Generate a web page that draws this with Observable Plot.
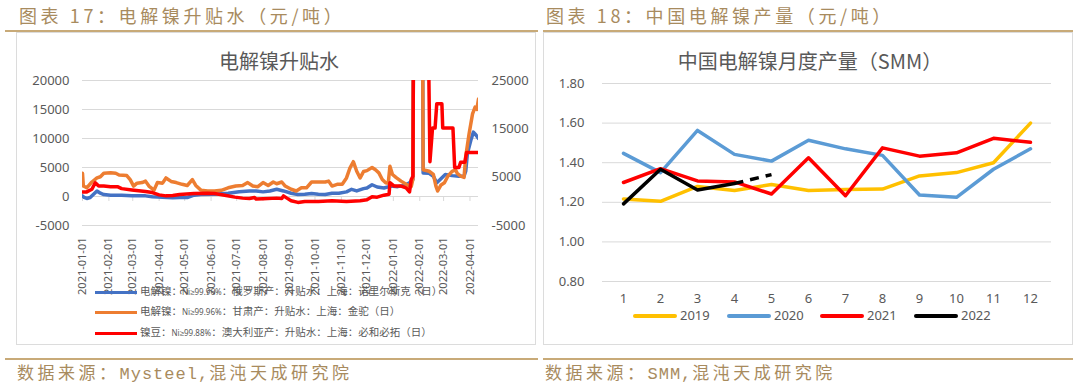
<!DOCTYPE html>
<html><head><meta charset="utf-8">
<script src="https://cdn.jsdelivr.net/npm/d3@7"></script>
<script src="https://cdn.jsdelivr.net/npm/@observablehq/plot@0.6"></script>
<style>
body{margin:0;background:#fff;width:1080px;height:392px;position:relative;overflow:hidden;font-family:"Noto Sans","Noto Sans CJK SC",sans-serif;}
.abs{position:absolute;line-height:1;white-space:nowrap;}
.hdr{color:#a88b5e;font-size:18px;letter-spacing:3.6px;font-family:"Noto Sans CJK SC",sans-serif;}
.ftr{color:#a88b5e;font-size:17px;letter-spacing:3.5px;font-family:"Liberation Mono","Noto Sans CJK SC",monospace;}
.ftr .m{letter-spacing:1px;}
.gline{position:absolute;background:#c8aa78;height:2px;}
.box{position:absolute;border:1px solid #dcdcdc;box-sizing:border-box;}
.ctitle{color:#595959;font-size:20px;transform:translateX(-50%);font-family:"Noto Sans CJK SC",sans-serif;}
.leg{color:#595959;font-size:10.5px;font-family:"Noto Sans CJK SC",sans-serif;}
.leg small{font-size:8px;font-family:"Noto Sans",sans-serif;}
.sw{position:absolute;}
.chart{position:absolute;}
</style></head>
<body>
<div id="root"></div>
<script>
// ---------- Chart 17 data ----------
const header17 = "图表 17：电解镍升贴水（元/吨）";
const title17 = "电解镍升贴水";
const source17 = "数据来源：Mysteel,混沌天成研究院";
const leftNames = ["电解镍：Ni≥99.96%：俄罗斯产：升贴水：上海：诺里尔斯克（日）","电解镍：Ni≥99.96%：甘肃产：升贴水：上海：金驼（日）","镍豆：Ni≥99.88%：澳大利亚产：升贴水：上海：必和必拓（日）"];
const leftColors = ["#4472C4","#ED7D31","#FF0000"];
const leftTicks = [-5000,0,5000,10000,15000,20000];
const rightAxisTicks = [-5000,5000,15000,25000];
const monthTicks = ["2021-01-01","2021-02-01","2021-03-01","2021-04-01","2021-05-01","2021-06-01","2021-07-01","2021-08-01","2021-09-01","2021-10-01","2021-11-01","2021-12-01","2022-01-01","2022-02-01","2022-03-01","2022-04-01"];
const xStart = "2021-01-01", xEnd = "2022-04-11";

const blueSeries = [["2021-01-01",100],["2021-01-03",-170],["2021-01-06",-340],["2021-01-10",-170],["2021-01-14",400],["2021-01-18",960],["2021-01-22",565],["2021-01-26",340],["2021-02-03",230],["2021-02-16",230],["2021-02-28",110],["2021-03-16",110],["2021-03-24",-60],["2021-04-05",-110],["2021-04-17",-230],["2021-04-25",-170],["2021-05-04",-170],["2021-05-12",230],["2021-05-20",340],["2021-06-05",400],["2021-06-21",560],["2021-07-04",800],["2021-07-16",960],["2021-07-24",960],["2021-08-01",800],["2021-08-09",960],["2021-08-17",1240],["2021-08-25",960],["2021-09-03",565],["2021-09-11",340],["2021-09-19",400],["2021-09-27",500],["2021-10-05",400],["2021-10-13",340],["2021-10-21",565],["2021-10-29",560],["2021-11-07",800],["2021-11-13",1240],["2021-11-19",960],["2021-11-27",1360],["2021-12-01",1470],["2021-12-07",2030],["2021-12-13",1640],["2021-12-21",1470],["2021-12-29",1800],["2022-01-06",1700],["2022-01-14",1900],["2022-01-20",2370],["2022-01-24",2940],["2022-01-25",40000],["2022-02-04",40000],["2022-02-05",4070],["2022-02-12",4000],["2022-02-17",3500],["2022-02-21",2370],["2022-02-25",2940],["2022-03-03",3800],["2022-03-11",3600],["2022-03-19",3500],["2022-03-25",3500],["2022-03-27",4350],["2022-03-29",7460],["2022-04-02",9700],["2022-04-05",11100],["2022-04-08",10600],["2022-04-11",10000]];

const orangeSeries = [["2021-01-01",4000],["2021-01-02",1800],["2021-01-06",1500],["2021-01-12",2500],["2021-01-18",3200],["2021-01-22",3400],["2021-01-26",4000],["2021-02-03",4100],["2021-02-09",4000],["2021-02-13",3700],["2021-02-22",3600],["2021-02-26",2900],["2021-03-02",1800],["2021-03-06",2300],["2021-03-12",2400],["2021-03-16",2650],["2021-03-20",1800],["2021-03-26",1100],["2021-03-30",2400],["2021-04-05",2300],["2021-04-09",3200],["2021-04-15",2600],["2021-04-21",2400],["2021-04-28",2100],["2021-05-04",1900],["2021-05-10",2900],["2021-05-14",1900],["2021-05-20",1100],["2021-05-28",950],["2021-06-05",950],["2021-06-13",1070],["2021-06-21",1500],["2021-06-30",1800],["2021-07-08",1900],["2021-07-14",2400],["2021-07-20",1800],["2021-07-26",1700],["2021-08-01",2400],["2021-08-07",1900],["2021-08-13",2500],["2021-08-17",2200],["2021-08-23",2500],["2021-08-27",1800],["2021-09-03",1250],["2021-09-09",950],["2021-09-15",1500],["2021-09-21",1500],["2021-09-27",2500],["2021-10-05",2500],["2021-10-13",2500],["2021-10-17",2650],["2021-10-21",1800],["2021-10-27",2100],["2021-11-02",2100],["2021-11-07",3200],["2021-11-11",4900],["2021-11-15",6000],["2021-11-19",4350],["2021-11-23",3200],["2021-11-27",4300],["2021-12-01",4460],["2021-12-07",5000],["2021-12-11",4600],["2021-12-15",4070],["2021-12-19",2940],["2021-12-23",2370],["2021-12-26",2300],["2021-12-28",5200],["2021-12-31",3800],["2022-01-04",3300],["2022-01-10",2650],["2022-01-16",2100],["2022-01-22",1700],["2022-01-24",3000],["2022-01-25",40000],["2022-02-04",40000],["2022-02-05",4600],["2022-02-12",4350],["2022-02-17",3800],["2022-02-20",1800],["2022-02-22",950],["2022-02-26",2000],["2022-03-02",2370],["2022-03-06",3500],["2022-03-11",4350],["2022-03-15",4600],["2022-03-17",4000],["2022-03-21",3500],["2022-03-25",3300],["2022-03-27",6900],["2022-03-31",10850],["2022-04-04",14240],["2022-04-07",15400],["2022-04-09",15000],["2022-04-11",16800]];

const redSeries = [["2021-01-01",790],["2021-01-06",790],["2021-01-12",1240],["2021-01-16",2370],["2021-01-20",1800],["2021-01-26",1800],["2021-02-03",1700],["2021-02-11",1700],["2021-02-16",1360],["2021-02-28",1130],["2021-03-16",850],["2021-03-24",680],["2021-04-01",280],["2021-04-09",110],["2021-04-17",170],["2021-04-25",340],["2021-05-12",500],["2021-05-28",565],["2021-06-05",500],["2021-06-17",230],["2021-06-29",-110],["2021-07-08",-280],["2021-07-16",-340],["2021-07-22",-170],["2021-07-24",-450],["2021-08-01",-400],["2021-08-17",-280],["2021-08-23",-340],["2021-08-25",110],["2021-08-29",-280],["2021-09-03",-730],["2021-09-11",-1020],["2021-09-19",-850],["2021-10-05",-850],["2021-10-21",-730],["2021-11-07",-850],["2021-11-23",-730],["2021-12-01",-565],["2021-12-07",-60],["2021-12-13",-110],["2021-12-21",230],["2021-12-27",400],["2021-12-28",2370],["2022-01-02",1800],["2022-01-10",1800],["2022-01-16",1500],["2022-01-20",790],["2022-01-22",2940],["2022-01-24",3500],["2022-01-25",40000],["2022-02-10",40000],["2022-02-13",6000],["2022-02-16",11800],["2022-02-19",11800],["2022-02-21",16000],["2022-02-27",16000],["2022-02-28",11800],["2022-03-12",11800],["2022-03-14",5000],["2022-03-19",5000],["2022-03-21",5900],["2022-03-26",5900],["2022-03-28",7600],["2022-04-11",7600]];

// ---------- Chart 18 data ----------
const header18 = "图表 18：中国电解镍产量（元/吨）";
const title18 = "中国电解镍月度产量（SMM）";
const source18 = "数据来源：SMM,混沌天成研究院";
const months = [1,2,3,4,5,6,7,8,9,10,11,12];
const years = ["2019","2020","2021","2022"];
const yearColors = ["#FFC000","#5B9BD5","#FF0000","#000000"];
const prod2019 = [1.217,1.205,1.28,1.26,1.29,1.26,1.265,1.267,1.333,1.35,1.40,1.60];
const prod2020 = [1.447,1.35,1.563,1.442,1.408,1.513,1.47,1.437,1.237,1.225,1.367,1.47];
const prod2021 = [1.30,1.37,1.308,1.303,1.242,1.425,1.233,1.475,1.433,1.45,1.523,1.503];
const prod2022 = [1.192,1.367,1.262,1.295];
const prod2022May = 1.34;
const rightYTicks = [0.8,1.0,1.2,1.4,1.6,1.8];

// ---------- layout ----------
const root = document.getElementById("root");
function el(cls, css, html){const d=document.createElement("div");d.className=cls;Object.assign(d.style,css);if(html!==undefined)d.innerHTML=html;root.appendChild(d);return d;}
const monoWrap = s => s.replace(/([A-Za-z]+,)/, '<span class="m">$1</span>');

el("abs hdr",{left:"19px",top:"6px"},header17);
el("abs hdr",{left:"546px",top:"6px"},header18);
el("gline",{left:"5px",top:"30px",width:"533px"});
el("gline",{left:"543px",top:"30px",width:"530px"});
el("box",{left:"16px",top:"32px",width:"520px",height:"313px"});
el("box",{left:"543px",top:"32px",width:"530px",height:"313px"});
el("gline",{left:"5px",top:"358px",width:"533px"});
el("gline",{left:"543px",top:"358px",width:"530px"});
el("abs ftr",{left:"17px",top:"366px"},monoWrap(source17));
el("abs ftr",{left:"545px",top:"366px"},monoWrap(source18));

const parse = d3.utcParse("%Y-%m-%d");
const baseStyle = {fontFamily:"'Noto Sans','Noto Sans CJK SC',sans-serif",fontSize:"13px",color:"#595959",background:"transparent",overflow:"visible"};

// Left chart
const leftRows = [];
[blueSeries, orangeSeries, redSeries].forEach((arr,i)=>arr.forEach(([d,v])=>leftRows.push({date:parse(d),value:v,series:leftNames[i]})));
const rLo = -5000, rHi = 25000, lLo = -5000, lHi = 20000;
const toLeft = v => lLo + (v - rLo) * (lHi - lLo) / (rHi - rLo);
const fromLeft = v => rLo + (v - lLo) * (rHi - rLo) / (lHi - lLo);

const leftPlot = Plot.plot({
  width: 519, height: 310,
  marginLeft: 66, marginRight: 57, marginTop: 48, marginBottom: 117,
  style: baseStyle,
  x: {type: "utc", domain: [parse(xStart), parse(xEnd)], label: null},
  y: {domain: [lLo, lHi], label: null},
  color: {domain: leftNames, range: leftColors},
  marks: [
    Plot.gridY(leftTicks, {stroke: "#d9d9d9", strokeOpacity: 1}),
    Plot.ruleX(monthTicks.map(parse), {y1: 0, y2: 0, insetBottom: -5, stroke: "#d9d9d9"}),
    Plot.axisX(monthTicks.map(parse), {tickRotate: -90, tickFormat: d3.utcFormat("%Y-%m-%d"), tickSize: 0, tickPadding: 12, fontSize: 11}),
    Plot.axisY(leftTicks, {tickSize: 0, tickPadding: 13, tickFormat: d => String(d)}),
    Plot.axisY(rightAxisTicks.map(toLeft), {anchor: "right", tickSize: 0, tickPadding: 13, tickFormat: d => String(Math.round(fromLeft(d)))}),
    Plot.line(leftRows, {x: "date", y: "value", z: "series", stroke: "series", strokeWidth: 3.5, clip: true})
  ]
});
leftPlot.classList.add("chart");
Object.assign(leftPlot.style, {left: "16px", top: "32px"});
root.appendChild(leftPlot);

// Right chart
const rightRows = [];
[prod2019, prod2020, prod2021, prod2022].forEach((arr,i)=>arr.forEach((v,j)=>rightRows.push({month: months[j], value: v, year: years[i]})));
const forecastRows = [{month: months[3], value: prod2022[3], year: "2022"}, {month: months[4], value: prod2022May, year: "2022"}];

const rightPlot = Plot.plot({
  width: 526, height: 310,
  marginLeft: 58, marginRight: 19, marginTop: 51, marginBottom: 61,
  style: baseStyle,
  x: {type: "point", domain: months, padding: 0.5, label: null},
  y: {domain: [0.8, 1.8], label: null},
  color: {domain: years, range: yearColors},
  marks: [
    Plot.gridY(rightYTicks, {stroke: "#d9d9d9", strokeOpacity: 1}),
    Plot.axisY(rightYTicks, {tickSize: 0, tickPadding: 18, tickFormat: d3.format(".2f")}),
    Plot.axisX(months, {tickSize: 0, tickPadding: 12}),
    Plot.line(rightRows, {x: "month", y: "value", z: "year", stroke: "year", strokeWidth: 3.5}),
    Plot.line(forecastRows, {x: "month", y: "value", stroke: "year", strokeWidth: 3.5, strokeDasharray: "9,7", strokeLinecap: "butt"})
  ]
});
rightPlot.classList.add("chart");
Object.assign(rightPlot.style, {left: "544px", top: "32px"});
root.appendChild(rightPlot);

// chart titles
el("abs ctitle",{left:"279px",top:"51px"},title17);
el("abs ctitle",{left:"810px",top:"51px"},title18);

// left legend
const legY = [292, 312, 333];
leftNames.forEach((n,i)=>{
  el("sw",{left:"95px",top:(legY[i]-1.5)+"px",width:"42px",height:"3px",background:leftColors[i]});
  const html = n.replace(/(Ni≥[0-9.]+%)/, "<small>$1</small>");
  el("abs leg",{left:"140px",top:(legY[i]-6)+"px"},html);
});
// right legend
const rLegX = [633, 727, 820, 914];
years.forEach((y,i)=>{
  el("sw",{left:rLegX[i]+"px",top:"314px",width:"44px",height:"4px",borderRadius:"2px",background:yearColors[i]});
  el("abs",{left:(rLegX[i]+47)+"px",top:"309px",fontSize:"13px",color:"#595959"},y);
});
</script>
</body></html>
